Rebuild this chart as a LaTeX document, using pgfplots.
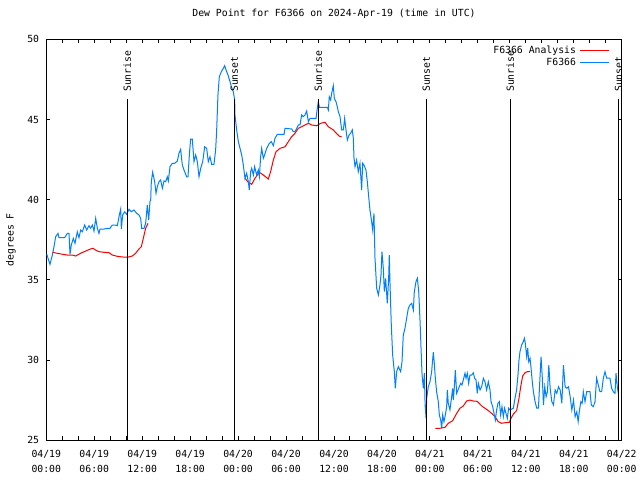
\documentclass[border=0pt]{standalone}
\usepackage{fontspec}
\setmainfont{DejaVu Sans Mono}
\usepackage{pgfplots}
\pgfplotsset{compat=1.18}
\definecolor{gpred}{RGB}{255,0,0}
\definecolor{gpblue}{RGB}{0,128,255}
\newcommand{\gpfont}{\fontsize{9.8}{14.5}\selectfont}
\begin{document}
\begin{tikzpicture}
\useasboundingbox (-46.3pt,-39.7pt) rectangle (593.7pt,440.3pt);
\begin{axis}[
  at={(0pt,0pt)}, anchor=south west,
  scale only axis, width=575.4pt, height=401pt,
  xmin=0, xmax=72, ymin=25, ymax=50,
  xtick={0,6,...,72},
  minor x tick num=2,
  ytick={25,30,...,50},
  xticklabels={{04/19\\00:00},{04/19\\06:00},{04/19\\12:00},{04/19\\18:00},{04/20\\00:00},{04/20\\06:00},{04/20\\12:00},{04/20\\18:00},{04/21\\00:00},{04/21\\06:00},{04/21\\12:00},{04/21\\18:00},{04/22\\00:00}},
  xticklabel style={align=center, font=\gpfont, anchor=north, inner sep=0pt, yshift=-10pt},
  yticklabel style={font=\gpfont, inner sep=0pt, xshift=-7pt},
  /pgf/number format/assume math mode=true,
  major tick length=4pt, minor tick length=4pt,
  tick style={black, line width=1pt},
  axis line style={line width=1pt},
  title={Dew Point for F6366 on 2024-Apr-19 (time in UTC)},
  title style={at={(axis description cs:0.5,1)}, anchor=center, yshift=20pt, font=\gpfont},
  ylabel={degrees F},
  ylabel style={at={(axis description cs:-0.0613,0.5)}, anchor=center, font=\gpfont},
  legend style={at={(axis description cs:0.98,0.99)}, anchor=north east, draw=none, fill=none, font=\gpfont, inner sep=0pt, row sep=0pt, column sep=2pt},
  legend cell align=right,
  legend plot pos=right,
  legend image code/.code={\draw[#1, line width=1pt] (0pt,0pt) -- (29pt,0pt);},
]
% red analysis gaps (no legend)
\addplot[gpred, line width=1pt, forget plot] coordinates {
(24.86,41.33) (25.28,41.08) (25.70,40.96) (26.11,41.33) (26.66,41.71) (27.16,41.54) (27.78,41.29) (28.07,41.75) (28.41,42.47) (28.74,42.99) (29.24,43.20) (29.87,43.30) (30.29,43.62) (30.70,43.93) (31.12,44.14) (31.54,44.45) (31.95,44.55) (32.37,44.66) (32.79,44.76) (33.20,44.66) (33.83,44.61) (34.33,44.76) (34.87,44.83) (35.29,44.55) (35.91,44.35) (36.41,44.08) (36.75,43.93) (36.96,43.93)};
\addplot[gpred, line width=1pt, forget plot] coordinates {
(48.68,25.75) (49.26,25.75) (49.89,25.81) (50.30,26.06) (50.85,26.22) (51.35,26.68) (51.76,27.00) (52.18,27.14) (52.60,27.45) (53.01,27.51) (53.43,27.45) (53.93,27.43) (54.48,27.14) (54.89,27.00) (55.31,26.85) (55.73,26.68) (56.14,26.47) (56.56,26.16) (56.98,26.06) (57.40,26.10) (57.94,26.12) (58.10,26.31) (58.44,26.64) (58.85,26.85) (59.15,27.62) (59.36,28.34) (59.61,29.01) (59.90,29.21) (60.19,29.28) (60.53,29.28)};
\addplot[gpred, line width=1pt] coordinates {
(0.76,36.72) (1.38,36.66) (2.01,36.60) (2.63,36.55) (3.26,36.55) (3.68,36.49) (4.30,36.66) (4.93,36.80) (5.55,36.93) (5.84,36.97) (6.18,36.86) (6.59,36.76) (7.22,36.72) (7.85,36.70) (8.26,36.55) (8.89,36.47) (9.51,36.43) (10.14,36.41) (10.76,36.49) (11.18,36.66) (11.60,36.93) (11.89,37.07) (12.14,37.59) (12.43,38.22) (12.73,38.53)};
\addlegendentry{F6366 Analysis}
\addplot[gpblue, line width=1pt] coordinates {
(0.05,36.61) (0.46,35.97) (0.76,36.55) (0.96,37.07) (1.17,37.69) (1.46,37.90) (1.59,37.63) (2.01,37.63) (2.30,37.63) (2.63,37.90) (2.84,37.90) (2.97,36.60) (3.13,37.18) (3.38,37.59) (3.59,37.28) (3.88,38.00) (4.09,37.63) (4.30,38.11) (4.51,38.00) (4.80,38.42) (5.05,38.11) (5.34,38.38) (5.55,38.22) (5.76,38.42) (5.97,38.05) (6.18,38.84) (6.39,38.22) (6.59,37.90) (6.72,38.17) (7.22,38.17) (7.72,38.22) (7.97,38.22) (8.26,38.42) (8.68,38.42) (8.89,38.38) (9.14,39.05) (9.31,39.42) (9.39,38.17) (9.56,39.05) (9.81,39.25) (10.06,39.09) (10.35,39.40) (10.64,39.25) (10.97,39.36) (11.31,39.15) (11.60,39.05) (11.81,38.84) (11.93,38.22) (12.23,38.22) (12.43,38.53) (12.64,39.67) (12.81,38.73) (12.98,39.92) (13.06,39.94) (13.14,41.12) (13.31,41.71) (13.56,41.12) (13.73,40.40) (13.89,40.81) (14.10,41.12) (14.31,41.23) (14.52,40.71) (14.73,41.17) (14.94,41.12) (15.14,41.43) (15.27,41.17) (15.48,42.06) (15.77,42.27) (16.06,42.27) (16.40,42.41) (16.60,42.89) (16.81,43.14) (17.02,42.16) (17.23,41.85) (17.56,41.43) (17.73,41.43) (17.90,42.79) (18.06,43.78) (18.27,43.78) (18.48,42.37) (18.69,42.79) (18.90,42.37) (19.11,41.43) (19.32,41.96) (19.57,42.37) (19.82,43.30) (20.07,43.20) (20.27,42.37) (20.48,42.68) (20.69,42.21) (20.98,42.21) (21.19,43.10) (21.32,44.35) (21.48,46.53) (21.65,47.67) (21.90,47.98) (22.15,48.19) (22.32,48.36) (22.49,48.09) (22.74,47.77) (22.99,47.36) (23.15,47.05) (23.40,46.73) (23.57,46.22)
(23.61,45.28) (23.82,44.35) (24.03,43.62) (24.24,43.20) (24.45,42.79) (24.65,42.16) (24.86,41.33) (25.07,41.65) (25.28,41.12) (25.40,40.60) (25.57,41.75) (25.70,41.96) (25.91,41.54) (26.07,42.06) (26.32,41.54) (26.53,41.85) (26.66,41.44) (26.82,42.68) (26.95,43.20) (27.16,42.58) (27.32,42.79) (27.57,43.20) (27.91,43.51) (28.16,43.62) (28.41,43.37) (28.62,43.83) (28.91,44.08) (29.75,44.08) (29.87,44.45) (30.70,44.41) (30.91,44.24) (31.12,44.24) (31.33,44.45) (31.54,44.66) (31.75,44.66) (31.95,45.28) (32.16,45.18) (32.37,45.28) (32.58,45.53) (32.79,44.86) (33.00,45.07) (33.75,45.07) (33.91,45.70) (34.04,46.11) (34.17,45.76) (35.17,45.76) (35.29,45.59) (35.41,46.42) (35.58,46.22) (35.71,46.63) (35.91,47.11) (36.04,46.32) (36.25,46.11) (36.41,45.80) (36.54,45.49) (36.75,45.18) (36.96,44.35) (37.17,44.35) (37.33,45.07) (37.50,44.35) (37.67,43.72) (37.88,44.03) (38.08,44.14) (38.29,44.35) (38.42,43.83) (38.50,42.62) (38.63,42.06) (38.83,42.47) (39.04,41.75) (39.25,42.27) (39.46,40.60) (39.59,42.27) (39.75,42.16) (40.00,41.85) (40.17,41.12) (40.34,40.19) (40.50,39.36) (40.71,38.63) (40.84,38.11) (41.00,39.15) (41.13,36.35) (41.34,34.48) (41.55,34.06) (41.75,34.68) (41.88,35.31) (42.00,36.76) (42.17,35.72) (42.30,34.27) (42.46,35.10) (42.67,33.54) (42.84,35.10) (42.92,36.55) (43.00,34.89) (43.17,32.19) (43.34,30.32) (43.55,29.28) (43.67,28.24) (43.84,29.28) (44.05,29.59) (44.34,29.28) (44.51,29.90) (44.67,31.56) (44.88,31.98) (45.09,32.61) (45.30,33.23) (45.51,33.44) (45.72,33.54) (45.93,33.12) (46.05,34.27) (46.26,34.89) (46.43,35.10) (46.60,34.27) (46.77,32.40) (46.89,30.74) (47.02,29.07) (47.18,28.24) (47.31,29.18) (47.40,27.20) (47.52,26.37) (47.60,27.62) (47.80,28.34)
(48.01,28.65) (48.22,29.28) (48.34,30.01) (48.43,30.49) (48.55,29.80) (48.68,28.87) (48.84,28.03) (49.05,27.41) (49.18,26.58) (49.35,26.27) (49.47,25.75) (49.60,26.58) (49.76,26.16) (49.93,26.58) (50.10,27.10) (50.18,28.14) (50.30,27.31) (50.51,26.89) (50.72,27.72) (50.85,28.24) (50.93,27.51) (51.06,28.34) (51.18,29.38) (51.35,27.93) (51.52,28.14) (51.68,28.34) (51.85,28.55) (52.01,28.45) (52.18,28.76) (52.39,29.18) (52.52,28.87) (52.68,29.18) (52.85,28.55) (53.01,29.07) (53.22,29.07) (53.43,29.21) (53.60,28.87) (53.77,28.76) (53.93,27.93) (54.06,28.55) (54.27,28.14) (54.48,28.34) (54.69,28.87) (54.89,28.65) (55.10,28.14) (55.31,28.65) (55.52,28.14) (55.65,27.41) (55.85,27.10) (56.02,26.68) (56.19,26.27) (56.35,26.89) (56.52,27.31) (56.69,27.41) (56.85,26.58) (57.02,27.10) (57.19,26.47) (57.35,27.00) (57.52,26.68) (57.69,26.37) (57.85,27.00) (58.02,26.89) (58.44,27.00) (58.65,27.62) (58.85,28.14) (59.02,29.07) (59.15,30.01) (59.27,30.52) (59.48,30.94) (59.69,31.15) (59.82,31.36) (59.94,31.05) (60.11,30.21) (60.24,30.74) (60.37,29.90) (60.53,30.11) (60.66,29.49) (60.83,28.55) (60.95,28.03) (61.16,27.41) (61.37,27.00) (61.58,27.00) (61.79,29.07) (61.91,30.21) (62.08,28.76) (62.21,27.20) (62.37,28.34) (62.54,27.72) (62.71,28.03) (62.88,29.69) (63.05,28.24) (63.25,27.41) (63.46,27.20) (63.67,28.14) (63.88,27.93) (64.09,28.34) (64.30,28.14) (64.51,27.31) (64.71,29.69) (64.92,28.34) (65.13,28.24) (65.34,28.34) (65.55,27.72) (65.76,26.89) (65.97,27.51) (66.17,26.47) (66.38,26.78) (66.55,26.16) (66.72,26.89) (66.89,27.41) (67.05,27.31) (67.20,28.03) (67.41,27.41) (67.62,28.03) (68.03,28.03) (68.20,27.20) (68.45,27.10) (68.66,27.41) (68.86,28.87) (69.07,28.45) (69.28,28.03) (69.49,28.03) (69.70,28.87) (69.91,29.28) (70.12,28.87) (70.53,28.87) (70.74,28.24) (70.95,28.03) (71.16,27.93) (71.29,29.18) (71.45,28.34) (71.58,27.93)};
\addlegendentry{F6366}
% sunrise / sunset markers
\addplot[black, line width=1pt, forget plot] coordinates {(10.14,25) (10.14,46.28)};
\addplot[black, line width=1pt, forget plot] coordinates {(23.52,25) (23.52,46.28)};
\addplot[black, line width=1pt, forget plot] coordinates {(34.04,25) (34.04,46.28)};
\addplot[black, line width=1pt, forget plot] coordinates {(47.55,25) (47.55,46.28)};
\addplot[black, line width=1pt, forget plot] coordinates {(58.06,25) (58.06,46.28)};
\addplot[black, line width=1pt, forget plot] coordinates {(71.62,25) (71.62,46.28)};
\node[rotate=90, anchor=west, inner sep=0pt, font=\gpfont] at (axis cs:10.14,46.71) {Sunrise};
\node[rotate=90, anchor=west, inner sep=0pt, font=\gpfont] at (axis cs:23.52,46.71) {Sunset};
\node[rotate=90, anchor=west, inner sep=0pt, font=\gpfont] at (axis cs:34.04,46.71) {Sunrise};
\node[rotate=90, anchor=west, inner sep=0pt, font=\gpfont] at (axis cs:47.55,46.71) {Sunset};
\node[rotate=90, anchor=west, inner sep=0pt, font=\gpfont] at (axis cs:58.06,46.71) {Sunrise};
\node[rotate=90, anchor=west, inner sep=0pt, font=\gpfont] at (axis cs:71.62,46.71) {Sunset};
\end{axis}
\end{tikzpicture}
\end{document}
